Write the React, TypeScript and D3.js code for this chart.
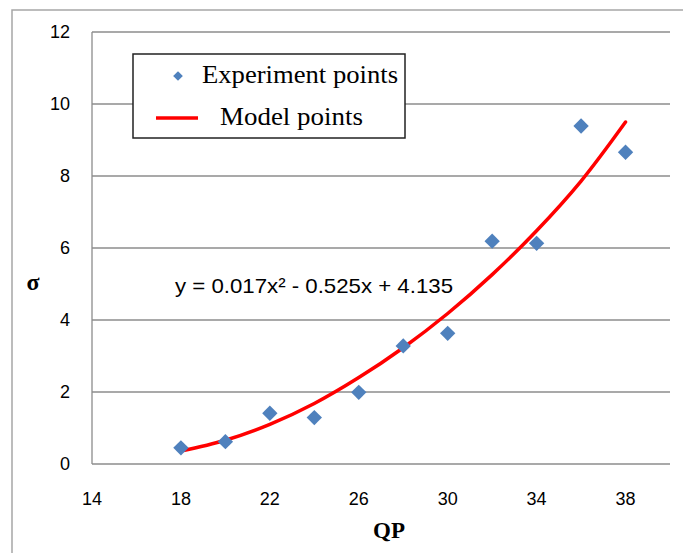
import React from 'react';
import * as d3 from 'd3';

// values
const qp = [18, 20, 22, 24, 26, 28, 30, 32, 34, 36, 38];
const experiment = [0.45, 0.62, 1.41, 1.29, 1.99, 3.28, 3.63, 6.19, 6.13, 9.39, 8.66];
const model = [0.36, 0.66, 1.1, 1.68, 2.4, 3.23, 4.18, 5.26, 6.48, 7.86, 9.5];
const xTicks = [14, 18, 22, 26, 30, 34, 38];
const yTicks = [0, 2, 4, 6, 8, 10, 12];
const legendLabels = ['Experiment points', 'Model points'];
const equation = 'y = 0.017x² - 0.525x + 4.135';

const W = 683, H = 553;
const plot = { left: 92, top: 32, right: 670, bottom: 464 };
const blue = '#4F81BD';
const sans = '"Liberation Sans", Arial, sans-serif';
const serif = '"Liberation Serif", "Times New Roman", serif';

export default function App() {
  const x = d3.scaleLinear().domain([14, 40]).range([plot.left, plot.right]);
  const y = d3.scaleLinear().domain([0, 12]).range([plot.bottom, plot.top]);

  const line = d3.line<number>()
    .x((d, i) => x(qp[i]))
    .y((d) => y(d))
    .curve(d3.curveCatmullRom);

  const diamond = d3.symbol().type(d3.symbolDiamond2).size(150)();

  return (
    <svg width={W} height={H} style={{ position: 'absolute', left: 0, top: 0, background: '#fff' }}>
      {/* outer chart frame */}
      <path d={`M12,${H} V10 H${W}`} fill="none" stroke="#a6a6a6" strokeWidth={1.5} />

      {/* gridlines */}
      {yTicks.map((t) => (
        <line key={'g' + t} x1={plot.left} x2={plot.right} y1={y(t)} y2={y(t)} stroke="#8c8c8c" strokeWidth={1.3} />
      ))}
      <line x1={plot.left} x2={plot.left} y1={plot.top} y2={plot.bottom} stroke="#8c8c8c" strokeWidth={1.3} />

      {/* y tick labels */}
      {yTicks.map((t) => (
        <text key={'y' + t} x={70} y={y(t) + 6} textAnchor="end" fontFamily={sans} fontSize={18} fill="#000">{t}</text>
      ))}
      {/* x tick labels */}
      {xTicks.map((t) => (
        <text key={'x' + t} x={x(t)} y={505} textAnchor="middle" fontFamily={sans} fontSize={18} fill="#000">{t}</text>
      ))}

      {/* axis titles */}
      <text x={33} y={290} textAnchor="middle" fontFamily={serif} fontWeight="bold" fontSize={24}>σ</text>
      <text x={389} y={538} textAnchor="middle" fontFamily={serif} fontWeight="bold" fontSize={23}>QP</text>

      {/* model curve */}
      <path d={line(model) || ''} fill="none" stroke="#ff0000" strokeWidth={3.5} strokeLinecap="round" />

      {/* experiment points */}
      {experiment.map((v, i) => (
        <path key={'p' + i} d={diamond || ''} transform={`translate(${x(qp[i])},${y(v)})`} fill={blue} />
      ))}

      {/* trendline equation */}
      <text x={175} y={293} fontFamily={sans} fontSize={21} fill="#000" textLength={278} lengthAdjust="spacingAndGlyphs">{equation}</text>

      {/* legend */}
      <rect x={133} y={54} width={272} height={84} fill="#fff" stroke="#222" strokeWidth={1.5} />
      <path d={d3.symbol().type(d3.symbolDiamond2).size(60)() || ''} transform="translate(178,76)" fill={blue} />
      <text x={202} y={83} fontFamily={serif} fontSize={25} textLength={196} lengthAdjust="spacingAndGlyphs">{legendLabels[0]}</text>
      <line x1={156} x2={198} y1={118} y2={118} stroke="#ff0000" strokeWidth={3.5} />
      <text x={220} y={125} fontFamily={serif} fontSize={25} textLength={143} lengthAdjust="spacingAndGlyphs">{legendLabels[1]}</text>
    </svg>
  );
}
